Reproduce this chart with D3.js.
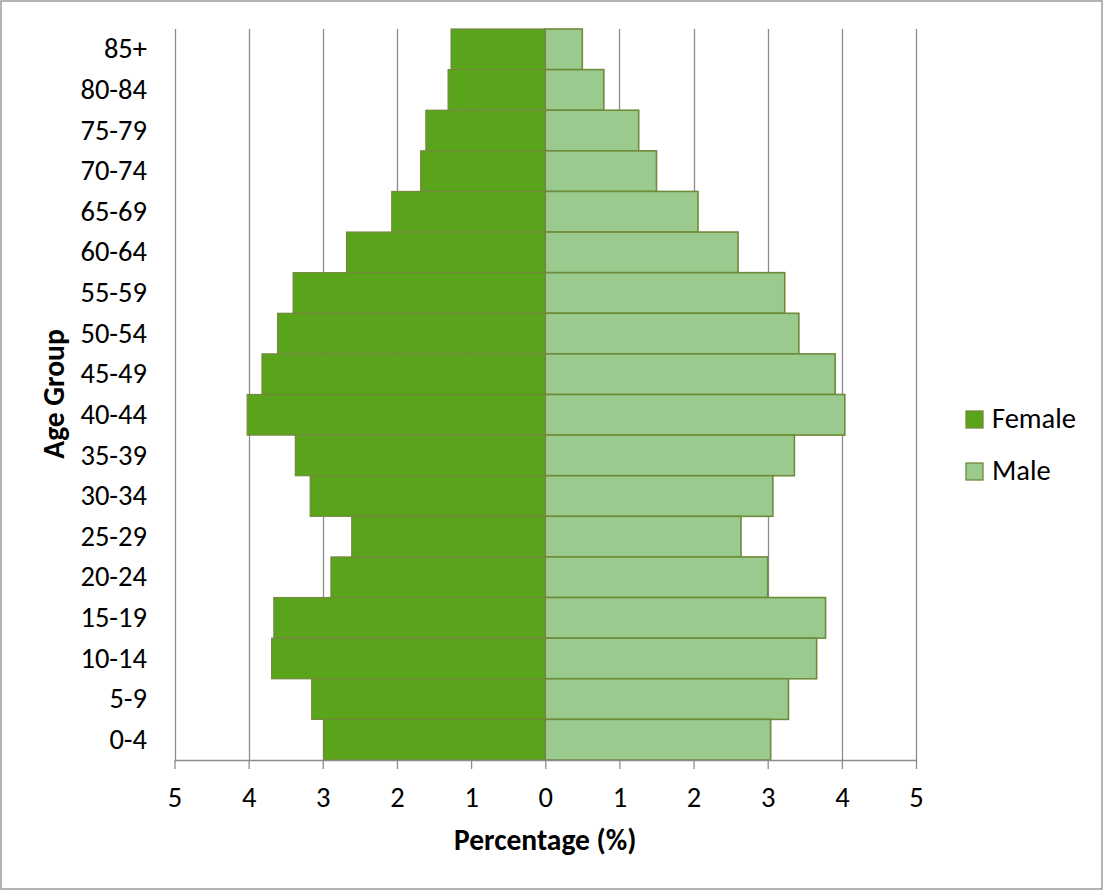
<!DOCTYPE html>
<html>
<head>
<meta charset="utf-8">
<script src="https://cdn.jsdelivr.net/npm/d3@7"></script>
<style>
  html, body { margin: 0; padding: 0; background: #fff; }
  svg { display: block; }
  text { font-family: Carlito, Lato, "Open Sans", sans-serif; fill: #000; }
</style>
</head>
<body>
<svg id="chart" width="1104" height="892"></svg>
<script>
// Age groups, top to bottom
const ageGroups = ["85+", "80-84", "75-79", "70-74", "65-69", "60-64", "55-59", "50-54",
  "45-49", "40-44", "35-39", "30-34", "25-29", "20-24", "15-19", "10-14", "5-9", "0-4"];

// Share of population (%) per age group
const femaleValues = [1.27, 1.31, 1.61, 1.68, 2.07, 2.68, 3.40, 3.61,
  3.82, 4.02, 3.37, 3.17, 2.61, 2.89, 3.66, 3.69, 3.15, 2.99];
const maleValues = [0.50, 0.79, 1.26, 1.50, 2.06, 2.60, 3.23, 3.42,
  3.91, 4.04, 3.36, 3.07, 2.64, 3.00, 3.78, 3.66, 3.28, 3.04];

const xTickValues = [-5, -4, -3, -2, -1, 0, 1, 2, 3, 4, 5];
const seriesNames = ["Female", "Male"];

const svg = d3.select("#chart");
const W = 1104, H = 892;
const plot = { left: 174.5, right: 916, top: 29, bottom: 760 };

const gridColor = "#8c8c8c";
const femaleFill = "#59a41a", femaleStroke = "#74883f";
const maleFill = "#9bca8f", maleStroke = "#6e8b3a";
const labelSize = 28.5, titleSize = 29.5;

// Outer chart frame
svg.append("rect")
  .attr("x", 1).attr("y", 1).attr("width", W - 3).attr("height", H - 4)
  .attr("fill", "#fff").attr("stroke", gridColor).attr("stroke-width", 1.3);

const x = d3.scaleLinear().domain([-5, 5]).range([plot.left, plot.right]);
const y = d3.scaleBand().domain(ageGroups).range([plot.top, plot.bottom]).padding(0);

// Vertical gridlines
svg.append("g").selectAll("line")
  .data(xTickValues)
  .join("line")
  .attr("x1", d => Math.round(x(d)) + 0.5).attr("x2", d => Math.round(x(d)) + 0.5)
  .attr("y1", plot.top).attr("y2", plot.bottom)
  .attr("stroke", gridColor).attr("stroke-width", 1.3);

// Female bars extend left of zero
svg.append("g").selectAll("rect")
  .data(ageGroups.map((g, i) => ({ g, v: femaleValues[i] })))
  .join("rect")
  .attr("x", d => x(-d.v)).attr("width", d => x(0) - x(-d.v))
  .attr("y", d => y(d.g)).attr("height", y.bandwidth())
  .attr("fill", femaleFill).attr("stroke", femaleStroke).attr("stroke-width", 1.2);

// Male bars extend right of zero
svg.append("g").selectAll("rect")
  .data(ageGroups.map((g, i) => ({ g, v: maleValues[i] })))
  .join("rect")
  .attr("x", x(0)).attr("width", d => x(d.v) - x(0))
  .attr("y", d => y(d.g)).attr("height", y.bandwidth())
  .attr("fill", maleFill).attr("stroke", maleStroke).attr("stroke-width", 1.6);

// Bottom axis: absolute percentages on both sides
const xAxis = d3.axisBottom(x)
  .tickValues(xTickValues)
  .tickFormat(d => Math.abs(d))
  .tickSizeInner(9).tickSizeOuter(0).tickPadding(0);
const gx = svg.append("g").attr("transform", `translate(0,${plot.bottom})`).call(xAxis);
gx.select(".domain").attr("stroke", gridColor).attr("stroke-width", 1.3);
gx.selectAll(".tick line").attr("stroke", gridColor).attr("stroke-width", 1.3);
gx.selectAll(".tick text")
  .attr("font-size", labelSize).attr("font-family", null)
  .attr("y", 47).attr("dy", null);

// Left axis: age group labels only
const yAxis = d3.axisLeft(y).tickSize(0).tickPadding(0);
const gy = svg.append("g").attr("transform", `translate(147,0)`).call(yAxis);
gy.select(".domain").remove();
gy.selectAll(".tick text").attr("font-size", labelSize).attr("font-family", null).attr("dy", "0.32em");

// Axis titles
svg.append("text")
  .attr("x", x(0)).attr("y", 850)
  .attr("text-anchor", "middle").attr("font-size", titleSize).attr("font-weight", "bold")
  .text("Percentage (%)");
svg.append("text")
  .attr("transform", "translate(64,394) rotate(-90)")
  .attr("text-anchor", "middle").attr("font-size", titleSize).attr("font-weight", "bold")
  .text("Age Group");

// Legend
const legend = svg.append("g").selectAll("g")
  .data(seriesNames)
  .join("g")
  .attr("transform", (d, i) => `translate(966,${411 + i * 52})`);
legend.append("rect")
  .attr("width", 17).attr("height", 17)
  .attr("fill", (d, i) => i === 0 ? femaleFill : maleFill)
  .attr("stroke", (d, i) => i === 0 ? femaleStroke : maleStroke)
  .attr("stroke-width", 1.3);
legend.append("text")
  .attr("x", 26).attr("y", 17)
  .attr("font-size", labelSize)
  .text(d => d);
</script>
</body>
</html>
